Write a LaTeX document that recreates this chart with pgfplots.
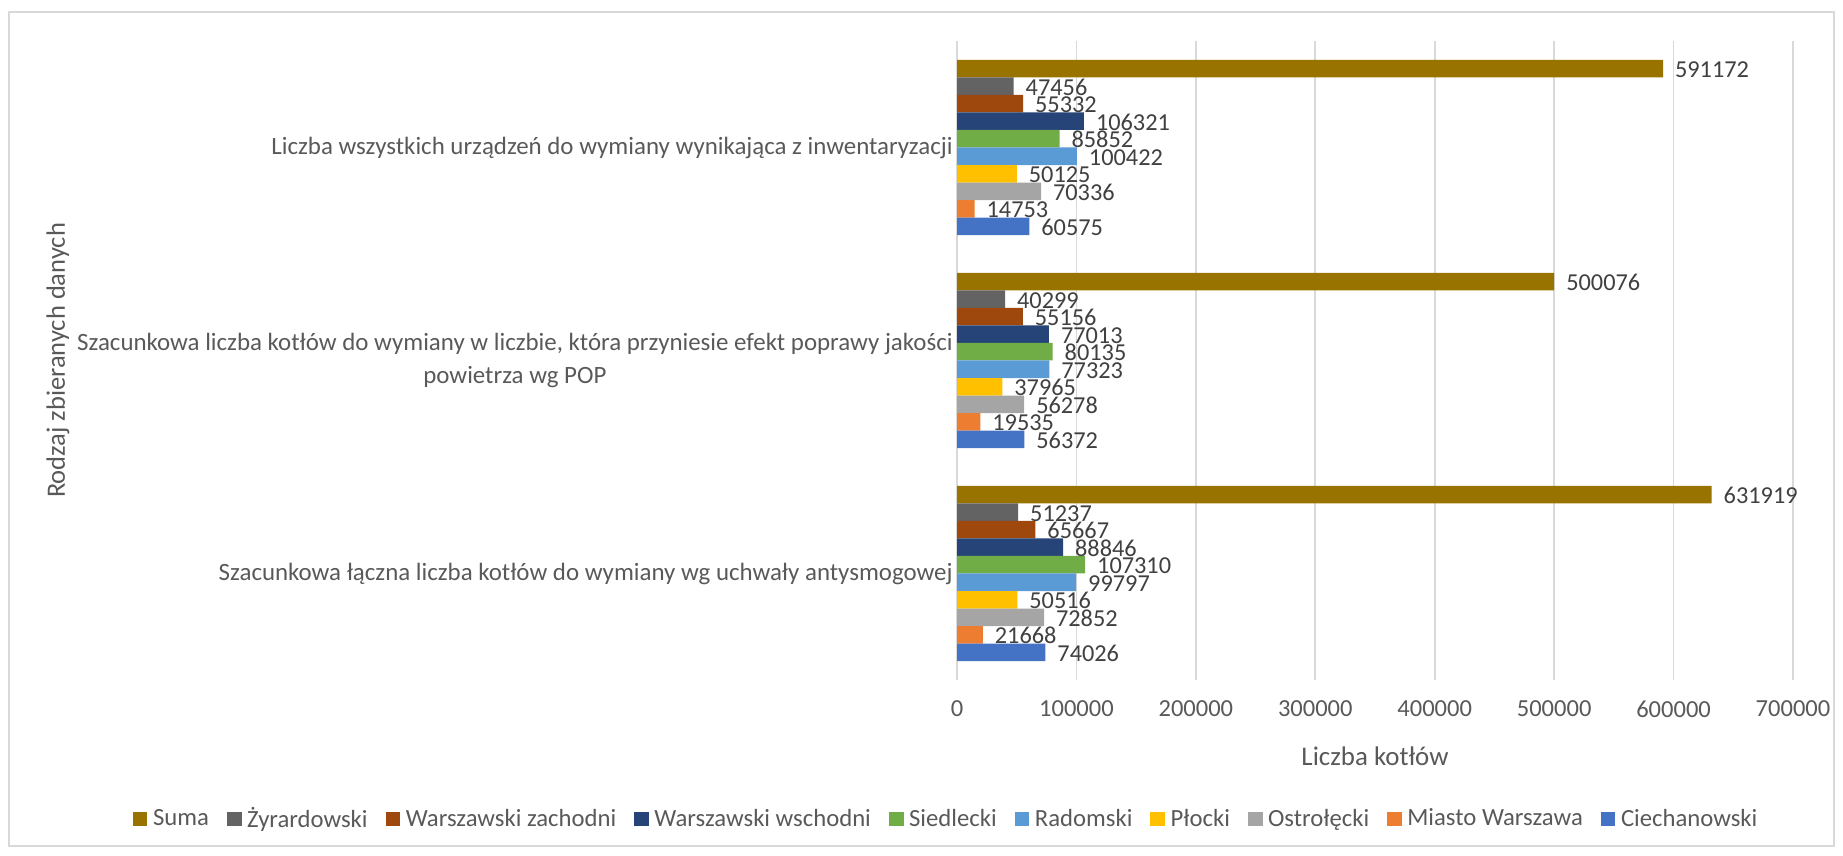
\documentclass[border=0pt]{standalone}
\usepackage{pgfplots}
\pgfplotsset{compat=1.18}
\usepackage{fontspec}
\setmainfont{Carlito}
\definecolor{cCie}{HTML}{4472C4}
\definecolor{cMW}{HTML}{ED7D31}
\definecolor{cOst}{HTML}{A5A5A5}
\definecolor{cPlo}{HTML}{FFC000}
\definecolor{cRad}{HTML}{5B9BD5}
\definecolor{cSie}{HTML}{70AD47}
\definecolor{cWW}{HTML}{264478}
\definecolor{cWZ}{HTML}{9E480E}
\definecolor{cZyr}{HTML}{636363}
\definecolor{cSum}{HTML}{997300}
\definecolor{txtgray}{HTML}{595959}
\definecolor{lblgray}{HTML}{404040}
\definecolor{gridgray}{HTML}{D9D9D9}
\begin{document}
\begin{tikzpicture}
\useasboundingbox (0,0) rectangle (921.5bp,428bp);
\draw[color=gridgray, line width=0.9bp] (4.5bp,5bp) rectangle (917bp,422bp);
\begin{axis}[
  at={(478.5bp,88bp)}, anchor=south west,
  scale only axis, width=418bp, height=319.5bp,
  xbar, bar width=0.0822,
  xmin=0, xmax=700000,
  ymin=-0.5, ymax=2.5,
  xtick={0,100000,200000,300000,400000,500000,600000,700000},
  scaled x ticks=false,
  xticklabel={\pgfmathprintnumber[fixed,precision=0,1000 sep={},assume math mode=true]{\tick}},
  ytick={0,1,2},
  yticklabels={{Szacunkowa łączna liczba kotłów do wymiany wg uchwały antysmogowej},{Szacunkowa liczba kotłów do wymiany w liczbie, która przyniesie efekt poprawy jakości\\powietrza wg POP},{Liczba wszystkich urządzeń do wymiany wynikająca z inwentaryzacji}},
  yticklabel style={align=center, font=\fontsize{12.5}{16.5}\selectfont, text=txtgray, inner sep=2bp},
  xticklabel style={font=\fontsize{12.3}{14}\selectfont, text=txtgray, yshift=-7bp},
  major tick length=0pt,
  axis line style={draw=none},
  xmajorgrids, grid style={draw=gridgray, line width=0.9bp},
  xlabel={Liczba kotłów},
  xlabel style={at={(axis description cs:0.5,-0.119)}, anchor=center, font=\fontsize{13.5}{15}\selectfont, text=txtgray},
  ylabel={Rodzaj zbieranych danych},
  ylabel style={at={(axis description cs:-1.0754,0.5)}, anchor=center, font=\fontsize{13.3}{15}\selectfont, text=txtgray},
  clip=false,
  point meta=explicit symbolic,
  nodes near coords={\pgfplotspointmeta},
  nodes near coords style={anchor=west, xshift=2.5bp, yshift=-0.5bp, font=\fontsize{12.2}{13}\selectfont, text=lblgray},
  legend columns=10,
  legend style={at={(axis description cs:-0.013,-0.2175)}, anchor=center, draw=none, fill=none,
    font=\fontsize{12.4}{13}\selectfont, text=txtgray,
    nodes={inner sep=1bp},
    /tikz/every odd column/.append style={column sep=1.8bp},
    /tikz/every even column/.append style={column sep=8bp}},
  legend image code/.code={\fill[#1] (0bp,-3.6bp) rectangle (7.3bp,3.6bp);},
]
\addplot[fill=cSum, draw=none, bar shift=0.3699] coordinates {(631919,0) [631919] (500076,1) [500076] (591172,2) [591172]};
\addlegendentry{Suma}
\addplot[fill=cZyr, draw=none, bar shift=0.2877] coordinates {(51237,0) [51237] (40299,1) [40299] (47456,2) [47456]};
\addlegendentry{Żyrardowski}
\addplot[fill=cWZ, draw=none, bar shift=0.2055] coordinates {(65667,0) [65667] (55156,1) [55156] (55332,2) [55332]};
\addlegendentry{Warszawski zachodni}
\addplot[fill=cWW, draw=none, bar shift=0.1233] coordinates {(88846,0) [88846] (77013,1) [77013] (106321,2) [106321]};
\addlegendentry{Warszawski wschodni}
\addplot[fill=cSie, draw=none, bar shift=0.0411] coordinates {(107310,0) [107310] (80135,1) [80135] (85852,2) [85852]};
\addlegendentry{Siedlecki}
\addplot[fill=cRad, draw=none, bar shift=-0.0411] coordinates {(99797,0) [99797] (77323,1) [77323] (100422,2) [100422]};
\addlegendentry{Radomski}
\addplot[fill=cPlo, draw=none, bar shift=-0.1233] coordinates {(50516,0) [50516] (37965,1) [37965] (50125,2) [50125]};
\addlegendentry{Płocki}
\addplot[fill=cOst, draw=none, bar shift=-0.2055] coordinates {(72852,0) [72852] (56278,1) [56278] (70336,2) [70336]};
\addlegendentry{Ostrołęcki}
\addplot[fill=cMW, draw=none, bar shift=-0.2877] coordinates {(21668,0) [21668] (19535,1) [19535] (14753,2) [14753]};
\addlegendentry{Miasto Warszawa}
\addplot[fill=cCie, draw=none, bar shift=-0.3699] coordinates {(74026,0) [74026] (56372,1) [56372] (60575,2) [60575]};
\addlegendentry{Ciechanowski}
\end{axis}
\end{tikzpicture}
\end{document}
